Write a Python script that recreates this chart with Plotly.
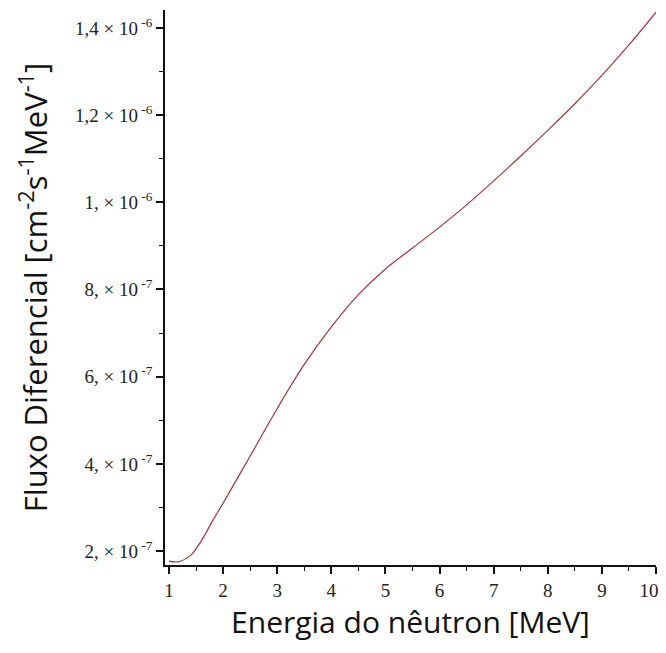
import plotly.graph_objects as go

energy = [1.0, 1.1, 1.2, 1.4, 1.6, 1.8, 2.0, 2.5, 3.0, 3.5, 4.0, 4.5, 5.0, 5.5, 6.0,
          6.5, 7.0, 7.5, 8.0, 8.5, 9.0, 9.5, 10.0]
flux = [1.77e-7, 1.75e-7, 1.76e-7, 1.90e-7, 2.24e-7, 2.68e-7, 3.10e-7, 4.18e-7, 5.27e-7,
        6.28e-7, 7.14e-7, 7.88e-7, 8.47e-7, 8.95e-7, 9.43e-7, 9.94e-7, 10.49e-7,
        11.06e-7, 11.65e-7, 12.26e-7, 12.91e-7, 13.61e-7, 14.36e-7]

x_ticks = [1, 2, 3, 4, 5, 6, 7, 8, 9, 10]
x_ticktext = ["1", "2", "3", "4", "5", "6", "7", "8", "9", "10\u00a0\u00a0\u00a0"]
y_ticks = [2e-7, 4e-7, 6e-7, 8e-7, 1e-6, 1.2e-6, 1.4e-6]
y_ticktext = ["2, × 10<sup> -7</sup>", "4, × 10<sup> -7</sup>", "6, × 10<sup> -7</sup>",
              "8, × 10<sup> -7</sup>", "1, × 10<sup> -6</sup>", "1,2 × 10<sup> -6</sup>",
              "1,4 × 10<sup> -6</sup>"]

fig = go.Figure()
fig.add_trace(go.Scatter(x=energy, y=flux, mode="lines",
                         line=dict(color="#a83240", width=1.2, shape="spline", smoothing=1.0),
                         showlegend=False))

tickfont = dict(family="Liberation Serif, Times New Roman, serif", size=19, color="#222")
xtitlefont = dict(family="Open Sans, sans-serif", size=30, color="#111")
ytitlefont = dict(family="Open Sans, sans-serif", size=31, color="#111")

# the page body adds an 8px offset, margins compensate for it
fig.update_layout(
    width=666, height=653,
    margin=dict(l=157, r=18, t=2, b=96),
    plot_bgcolor="white", paper_bgcolor="white",
    xaxis=dict(range=[0.926, 10], tickvals=x_ticks, ticktext=x_ticktext,
               ticks="outside", ticklen=7, tickwidth=1.5, tickcolor="#111",
               showline=True, linecolor="#111", linewidth=1.5, showgrid=False, zeroline=False,
               tickfont=tickfont, ticklabeloverflow="allow",
               minor=dict(ticks="outside", ticklen=4, tickwidth=1.2, tickcolor="#111", tick0=0, dtick=0.5),
               title=dict(text="Energia do nêutron [MeV]", font=xtitlefont, standoff=0)),
    yaxis=dict(range=[1.68e-7, 1.441e-6], tickvals=y_ticks, ticktext=y_ticktext,
               ticks="outside", ticklen=7, tickwidth=1.5, tickcolor="#111",
               showline=True, linecolor="#111", linewidth=1.5, showgrid=False, zeroline=False,
               tickfont=tickfont, ticklabeloverflow="allow",
               minor=dict(ticks="outside", ticklen=4, tickwidth=1.2, tickcolor="#111", tick0=0, dtick=1e-7),
               title=dict(text="Fluxo Diferencial [cm<sup>-2</sup>s<sup>-1</sup>MeV<sup>-1</sup>]",
                          font=ytitlefont, standoff=18)),
)

fig.write_html("out.html", default_width="666px", default_height="653px",
               config={"displayModeBar": False, "responsive": False})
